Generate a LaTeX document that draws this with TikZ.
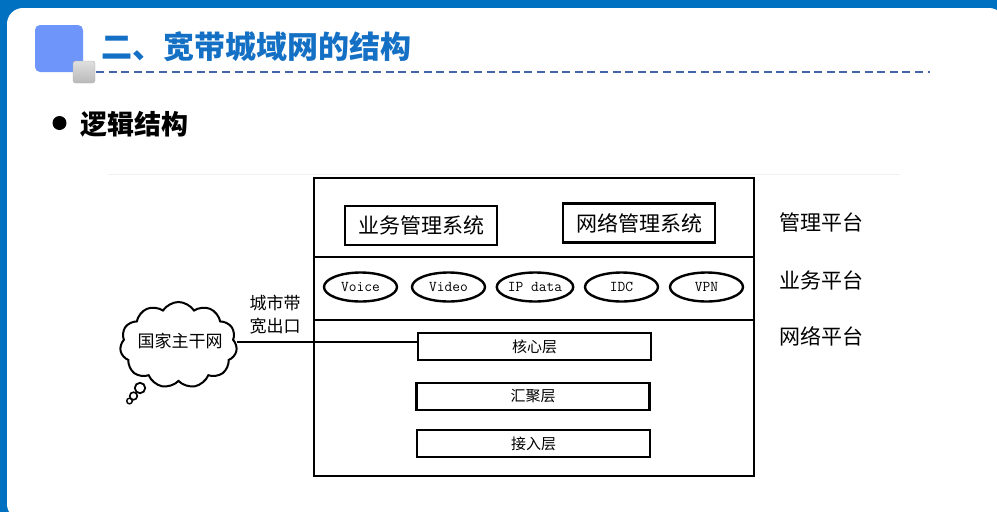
\documentclass[tikz,border=0pt]{standalone}
\usepackage{fontspec}
\newfontfamily\cjk{Noto Sans CJK SC}
\usetikzlibrary{shapes.symbols,shapes.geometric}
\definecolor{frameblue}{HTML}{0070C0}
\definecolor{titleblue}{HTML}{1370C4}
\definecolor{sqblue}{HTML}{6E96FA}
\definecolor{dashblue}{HTML}{4466A8}
\tikzset{
  mgmtbox/.style={draw, line width=2.6pt, minimum width=152pt, minimum height=39pt, inner sep=0pt, font=\cjk\fontsize{21}{21}\selectfont},
  svc/.style={draw, ellipse, line width=2.4pt, minimum width=73pt, minimum height=29pt, inner sep=0pt, font=\ttfamily\fontsize{15}{15}\selectfont},
  layerbox/.style={draw, line width=2.4pt, minimum width=233pt, minimum height=27pt, inner sep=0pt, font=\cjk\fontsize{15}{15}\selectfont},
  platlabel/.style={anchor=west, inner sep=0pt, font=\cjk\fontsize{21}{21}\selectfont},
}
\begin{document}
\begin{tikzpicture}[x=1pt,y=-1pt]
\useasboundingbox (0,0) rectangle (997,512);
\fill[frameblue] (0,0) rectangle (997,512);
\fill[white, rounded corners=16pt] (7,8) rectangle (1005,520);
% header decoration
\fill[sqblue, rounded corners=5pt] (35,25) rectangle (83,72);
\shade[top color=gray!25, bottom color=gray!55, draw=gray!60, rounded corners=2.5pt] (73,61) rectangle (95,83);
\node[anchor=west, inner sep=0pt, text=titleblue, font=\cjk\bfseries\fontsize{31}{31}\selectfont] (title) at (101,47) {二、宽带城域网的结构};
\draw[dashblue, line width=1.6pt, dash pattern=on 8pt off 4.6pt] (96,72) -- (930,72);
% bullet
\fill (59.5,123) circle (7);
\node[anchor=west, inner sep=0pt, font=\cjk\bfseries\fontsize{27}{27}\selectfont] (sub) at (80,124) {逻辑结构};
% faint line
\draw[gray!12, line width=0.8pt] (108,174) -- (900,174);
% main frame
\draw[line width=2pt] (314,178) rectangle (754,476);
\draw[line width=2pt] (314,257) -- (754,257);
\draw[line width=2pt] (314,320) -- (754,320);
% management boxes
\node[mgmtbox] (biz) at (421,225.5) {业务管理系统};
\node[mgmtbox] (net) at (639,223) {网络管理系统};
% services
\node[svc] (voice) at (360.5,287) {Voice};
\node[svc] (video) at (448.5,287) {Video};
\node[svc] (ipdata) at (535,287) {IP data};
\node[svc] (idc) at (621.5,287) {IDC};
\node[svc] (vpn) at (706.5,287) {VPN};
% layers
\node[layerbox] (core) at (534.5,346.5) {核心层};
\node[layerbox] (agg) at (533,396.5) {汇聚层};
\node[layerbox] (acc) at (533.5,443.5) {接入层};
% platform labels
\node[platlabel] (mp) at (779,222) {管理平台};
\node[platlabel] (bp) at (779,280) {业务平台};
\node[platlabel] (np) at (779,336) {网络平台};
% cloud
\node[cloud, draw, line width=2pt, cloud puffs=11, cloud puff arc=115, minimum width=117pt, minimum height=86pt, inner sep=0pt, aspect=1.4] (backbone) at (178.5,345) {};
\node[inner sep=0pt, font=\cjk\fontsize{17}{17}\selectfont] (bbtext) at (180,341) {国家主干网};
\draw[line width=1.8pt] (140,388) circle (5.2);
\draw[line width=1.6pt] (133.5,396) circle (3.8);
\draw[line width=1.4pt] (129.5,401) circle (2.8);
% link
\draw[line width=2pt] (backbone.east |- 0,342) -- (core.west |- 0,342);
\node[align=center, inner sep=0pt, font=\cjk\fontsize{17}{23}\selectfont] (exitlbl) at (275,315) {城市带\\宽出口};
\end{tikzpicture}
\end{document}
